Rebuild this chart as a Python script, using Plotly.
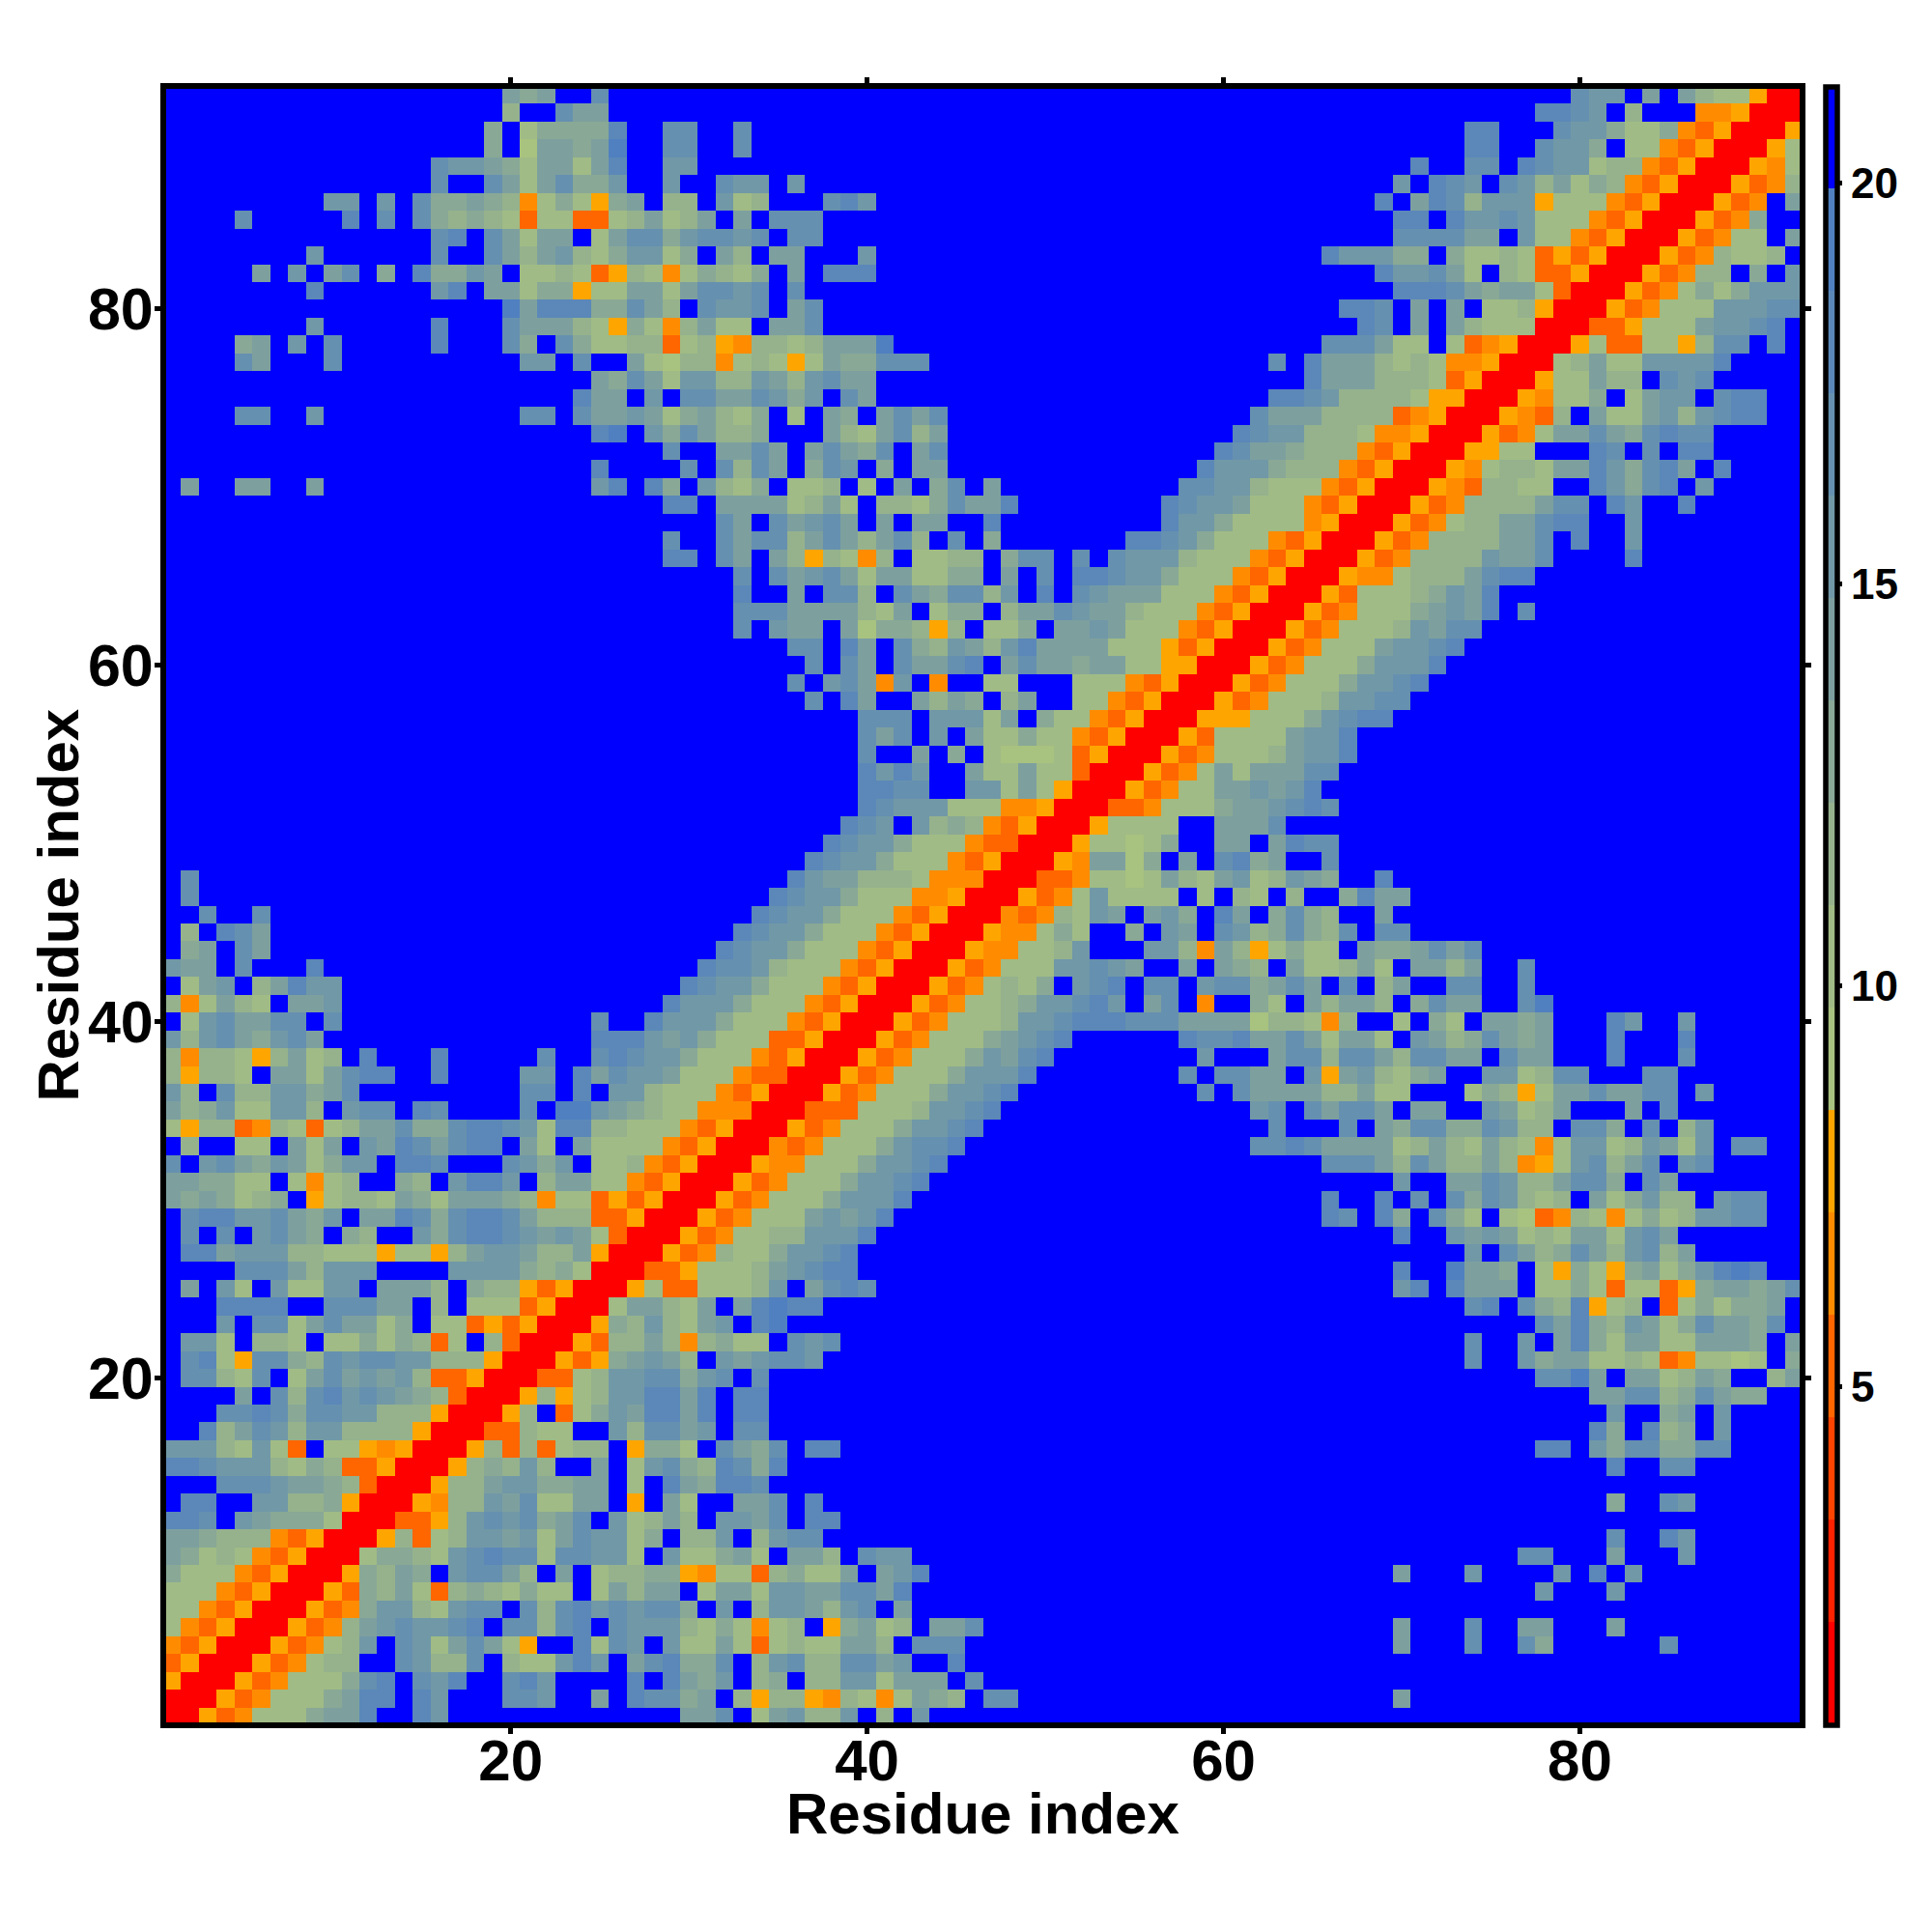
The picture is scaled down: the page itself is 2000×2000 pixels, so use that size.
import numpy as np
import plotly.graph_objects as go

residues = list(range(1, 93))
axis_ticks = [20, 40, 60, 80]
bar_ticks = [5, 10, 15, 20]
axis_title = "Residue index"
z_low = 0.79
z_high = 21.2
bin_colors = ["#FF0000", "#FF2200", "#FF4400", "#FF6600", "#FF8C00", "#FFA500",
              "#A8C280", "#A0BB85", "#95B28D", "#89A896", "#7DA09F", "#7198A7",
              "#6690AF", "#5B88B8", "#5080C0", "#0000FF"]

# Upper-left half of the symmetric map.
# "column:levels", one hex digit per cell (distance bin 0-f); omitted cells are bin f.
upper_rows = {
92: "20:a9a 25:c 80:cbbfafa877500",
91: "20:8 23:caa 78:ddcbf8fff44500",
90: "19:9f79999d 29:cc 33:c 74:dd 79:cbb977943500",
89: "19:9f6aa9ae 29:cc 33:c 74:dd 78:cbb9f7743500",
88: "16:cbba97aa7ad 29:bb 71:d 74:cc 77:dcbb78843500",
87: "16:c 19:ca7ac99b 29:b 32:cbb 36:b 70:b 72:dcb 76:cb8a79843500",
86: "10:bb 13:b 15:c99a98479759a 29:88 32:b78 38:cdb 69:d 71:adc8bbb577743500",
85: "5:c 11:d 13:c 15:c989873773378a78a 33:a 35:ccc 70:dd 73:dbbcb77743500",
84: "16:cd 19:ca7aa 25:7acc9bccbc 36:cc 70:ccccaafb7743500",
83: "9:b 16:c 19:ca8ab879bb79 32:a8 35:aa 40:b 66:dbbb99f97787353500",
82: "6:a 8:bfac 13:9 15:d99ba 21:77873587479879 36:a 38:ddd 69:dbbca7f8733500",
81: "9:d 16:bd 19:aa799577aa7accbc 36:c 70:dddca9aa7300",
80: "20:eaddd99ca8 31:cbbc 36:ac 67:ddc 71:a 73:a 75:778500",
79: "9:b 16:d 20:caaa8759748a77faac 68:dc 71:a 73:a877700",
78: "5:9a 8:b 10:c 16:d 20:c9fc97788378548878aaae 66:ccca77f734500",
77: "5:ca 10:c 21:bb 24:c 27:a7688478757a99ccc 63:c 65:daaa878744500",
76: "25:a9ca7bb88ba8bcaa 65:daaa88873500",
75: "24:daafbfccaacb9bfca 63:ddcb888875500",
74: "5:cc 9:b 21:cc 24:caaba79a879f7fa9facac 62:caaa888834500",
73: "25:de 28:b9ca889 38:a87ac8a 61:dcbb888744500",
72: "29:c 32:aacafaca9cfac 60:dcaa988843500",
71: "25:d 30:c 32:c8caf9cbf9faa 59:dbbb988843500",
70: "2:a 5:aa 9:a 25:bd 28:d9 31:b879f778f7faf9cfa 58:ccbb877743500",
69: "29:dd 32:aaaa78a7f8879caad 57:dcbba77743500",
68: "32:cafcabcafafaaffd 57:dbb977774500",
67: "29:c 32:cacc8aca8ac8fcf9 55:ddcb977743500",
66: "29:dd 32:cafa858748f7788f9ccfcfcbbb877743500",
65: "33:cfcabca7aa7799fafcfddcbb977743500",
64: "33:dffafcc8fca9cc8bfdfcbaaa77743500",
63: "33:cccaaaa87af799f8aacbaa877743500",
62: "33:cfbaafa699858f779faaba77743500",
61: "36:ccfdafc98ba8bdaaaa77753500",
60: "37:cfcafcaacdfacaa9aa775500",
59: "36:cfbca4bf4ff77fff77743500",
58: "37:cfdaffa8a9f8aff7743500",
57: "40:cccfbbb7af97743500",
56: "40:cacfbfa77977 43500",
55: "40:cffaf9f766673500",
54: "40:dbdbffa77a77300",
53: "40:ddccffbb7a7500",
52: "40:dcbbb77744500",
51: "39:dcbfb89843500",
50: "38:dcbb977743300",
49: "37:dcbb977743500",
48: "2:c 36:dbaa888744400",
47: "2:c 35:dcbb977744500",
46: "3:c 6:c 34:dcbb977743500",
45: "2:8fdca 33:dcbb977743500",
44: "2:9afca 32:dcbb977743500",
43: "1:baafc 9:d 31:dccb877743500",
42: "2:7abf8adbb 30:dcbb977743500",
41: "1:847a87faab 29:dbbb977743500",
40: "2:7bcaaccfc 25:c 28:dbbb977743500",
39: "1:b8bca9bca 25:dddbab977733500",
38: "1:8488758a78 12:d 16:d 22:c 25:cdcbb977743500",
37: "1:85887faa7acdd 16:d 21:bb 24:dacbba77743300",
36: "1:b8fc88bb9ac 21:cc 24:dfbb877743500",
35: "1:a89b77bb8fbccfdc 21:cfeeba9877444 00",
34: "1:75883487378aac99cddcb7dd8877743500",
33: "1:f8ff77fa7afbadcacddfa7fa777743500",
32: "1:cfbca9ba79bbfddcfffcb9bf77843500",
31: "1:aa9977f7478ff98fbddbf8aa7743500",
30: "1:a9a9789f57887a97aaa98477353500",
29: "1:fcddbbca9bfaadc9cddca888335 00",
28: "1:fcfcfbca9f98ffb9cddcbaba7300",
27: "1:fddabbb88777577 58abba88a500",
26: "1:ffffccca8bbbffffbbbb989700",
25: "1:fafb7fb77bbfaaa8f98853500",
24: "1:fffddddffcccaaf8f7773500",
23: "1:fffbfcc7acaa79f77353500",
22: "1:fbb7f887f77979837f8300",
21: "1:fcd75cc98cbccbb888500",
20: "1:fcc87cf7acabab833500",
19: "1:ffffafc8cdbcba98300",
18: "1:fffccdc9ccbb888500",
17: "1:ffd8acb8bb8888500",
16: "1:bbb87b73f7754500",
15: "1:ddcbbb879833500",
14: "1:fffcccbaa98300",
13: "1:fddffbb889500",
12: "1:ddcfba999700",
11: "1:aa988843500",
10: "1:a978743500",
9: "1:977743500",
8: "1:77743500",
7: "1:7743500",
6: "1:743500",
5: "1:43500",
4: "1:3500",
3: "1:500",
2: "1:00",
1: "1:0",
}

bin_width = (z_high - z_low) / 16
grid = np.full((92, 92), 15, dtype=int)
for row, text in upper_rows.items():
    start = None
    for part in text.split():
        if ":" in part:
            col, digits = part.split(":")
            start = int(col)
        else:
            digits = part
        for ch in digits:
            if start <= row:
                grid[row - 1, start - 1] = int(ch, 16)
                grid[start - 1, row - 1] = int(ch, 16)
            start += 1

distance = z_low + (grid + 0.5) * bin_width

colorscale = []
for i, c in enumerate(bin_colors):
    colorscale += [[i / 16, c], [(i + 1) / 16, c]]

W, H = 1990, 1990
L, T, SIDE = 164, 84, 1691
font_main = "Liberation Sans"

fig = go.Figure(go.Heatmap(
    x=residues, y=residues, z=distance, zmin=z_low, zmax=z_high,
    colorscale=colorscale,
    colorbar=dict(
        thicknessmode="pixels", thickness=12, lenmode="fraction", len=1.0032,
        x=1.0 + (1889.5 - 1863) / SIDE, xanchor="left", y=0.5, yanchor="middle",
        xpad=0, ypad=0, outlinecolor="black", outlinewidth=5.5,
        borderwidth=0, tickvals=bar_ticks, ticks="outside", ticklen=3, tickwidth=5,
        tickcolor="black",
        tickfont=dict(family=font_main, size=44, color="black", weight="bold"),
    ),
))
axis_common = dict(
    range=[0.66, 92.34], tickvals=axis_ticks, ticks="outside", ticklen=6, tickwidth=5,
    tickcolor="black", showline=True, linecolor="black", linewidth=6, mirror="ticks",
    showgrid=False, zeroline=False,
)
fig.update_xaxes(**axis_common, ticklabelstandoff=-24,
                 tickfont=dict(family=font_main, size=60, color="black", weight="bold"))
fig.update_yaxes(**axis_common, ticklabelstandoff=-11,
                 tickfont=dict(family=font_main, size=61, color="black", weight="bold"))
title_font = dict(family=font_main, size=60, color="black", weight="bold")
fig.add_annotation(text=axis_title, xref="paper", yref="paper", x=0.5, y=-0.0559,
                   xanchor="center", yanchor="middle", showarrow=False, font=title_font)
fig.add_annotation(text=axis_title, xref="paper", yref="paper", x=-0.0662, y=0.5,
                   xanchor="center", yanchor="middle", textangle=-90, showarrow=False,
                   font=title_font)
fig.update_layout(
    width=W, height=H, paper_bgcolor="white", plot_bgcolor="white",
    margin=dict(l=L, t=T, r=W - L - SIDE, b=H - T - SIDE, autoexpand=False),
)
fig.write_html("out.html")
